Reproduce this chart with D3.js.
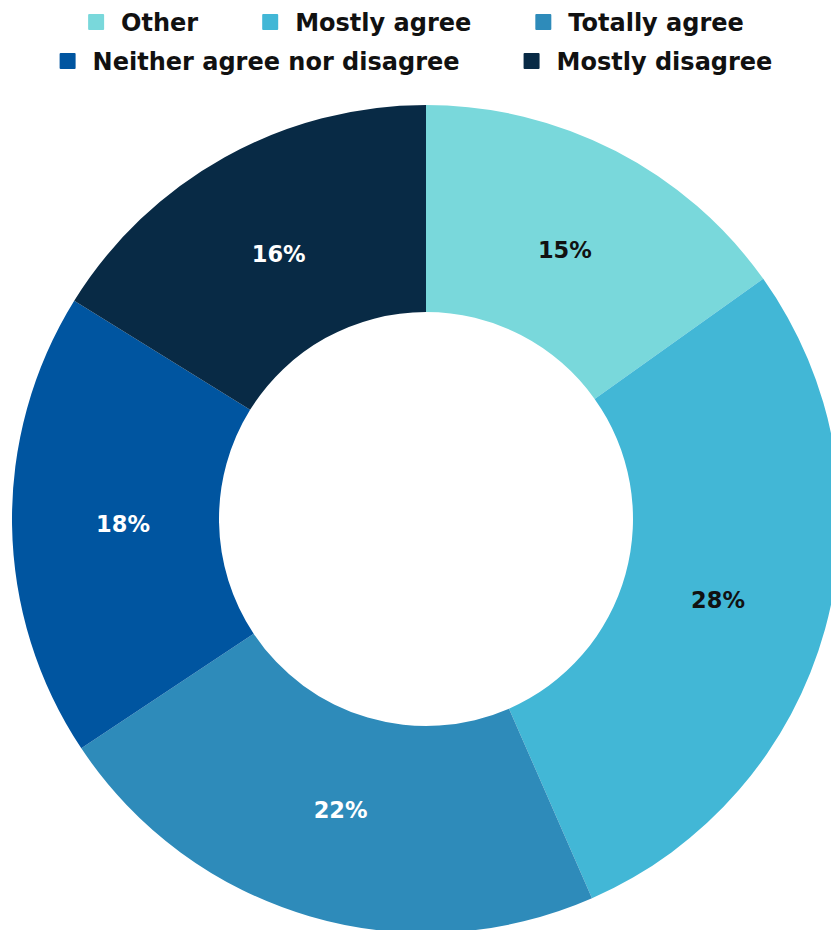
<!DOCTYPE html>
<html>
<head>
<meta charset="utf-8">
<script src="https://cdn.jsdelivr.net/npm/d3@7"></script>
<style>
  html, body { margin: 0; padding: 0; background: #fff; }
  svg { display: block; }
</style>
</head>
<body>
<svg id="chart" width="831" height="930"></svg>
<script>
// Survey response shares (percent)
const categories = ["Other", "Mostly agree", "Totally agree", "Neither agree nor disagree", "Mostly disagree"];
const values = [15, 28, 22, 18, 16];
const colors = ["#79D8DB", "#42B7D6", "#2E8BBA", "#0055A0", "#082A45"];
const labelColors = ["#111111", "#111111", "#ffffff", "#ffffff", "#ffffff"];
const legendRows = [[0, 1, 2], [3, 4]];

const svg = d3.select("#chart");
const font = "'DejaVu Sans', sans-serif";

const cx = 426, cy = 519, outerR = 414, innerR = 207, labelR = 303;

const pie = d3.pie().sort(null).value(d => d);
const arcs = pie(values);
const arc = d3.arc().innerRadius(innerR).outerRadius(outerR);
const labelArc = d3.arc().innerRadius(labelR).outerRadius(labelR);

const g = svg.append("g").attr("transform", `translate(${cx},${cy})`);

g.selectAll("path.slice")
  .data(arcs)
  .join("path")
  .attr("class", "slice")
  .attr("d", arc)
  .attr("fill", (d, i) => colors[i]);

g.selectAll("text.pct")
  .data(arcs)
  .join("text")
  .attr("class", "pct")
  .attr("transform", d => `translate(${labelArc.centroid(d)})`)
  .attr("text-anchor", "middle")
  .attr("dy", "0.36em")
  .attr("fill", (d, i) => labelColors[i])
  .style("font-family", font)
  .style("font-weight", 700)
  .style("font-size", "22.5px")
  .text(d => d.data + "%");

// Legend: rows of swatch + label, each row centred
const legend = svg.append("g");
const rowY = [22, 61];
const centreX = 416, sw = 16, swGap = 17, itemGap = 64;

legendRows.forEach((row, r) => {
  const rowG = legend.append("g");
  let x = 0;
  row.forEach(i => {
    const item = rowG.append("g").attr("transform", `translate(${x},${rowY[r]})`);
    item.append("rect")
      .attr("x", 0).attr("y", -sw / 2)
      .attr("width", sw).attr("height", sw)
      .attr("rx", 1)
      .attr("fill", colors[i]);
    const t = item.append("text")
      .attr("x", sw + swGap)
      .attr("dy", "0.36em")
      .attr("fill", "#111111")
      .style("font-family", font)
      .style("font-weight", 700)
      .style("font-size", "24px")
      .text(categories[i]);
    x += sw + swGap + t.node().getComputedTextLength() + itemGap;
  });
  const w = x - itemGap;
  rowG.attr("transform", `translate(${centreX - w / 2},0)`);
});
</script>
</body>
</html>
